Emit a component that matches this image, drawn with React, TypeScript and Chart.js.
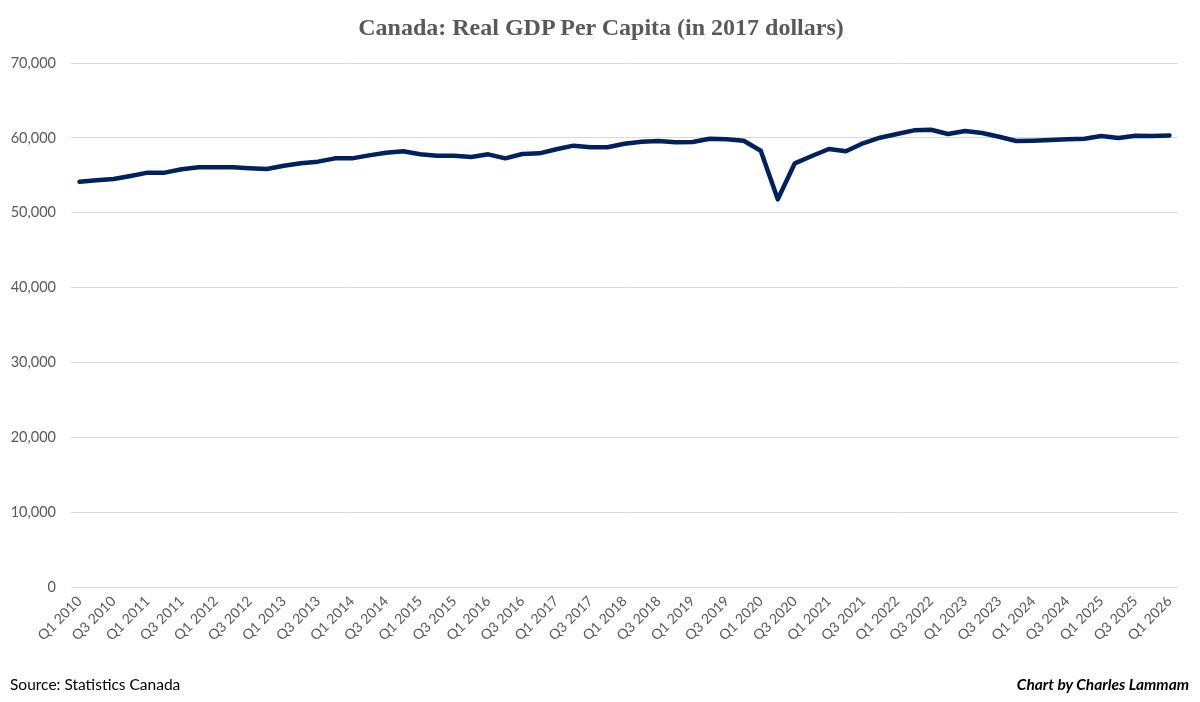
import { useEffect, useRef } from "react";
import { Chart, registerables } from "chart.js";

Chart.register(...registerables);

// Quarterly periods, Q1 2010 through Q1 2026
const quarters: string[] = [
  "Q1 2010", "Q2 2010", "Q3 2010", "Q4 2010",
  "Q1 2011", "Q2 2011", "Q3 2011", "Q4 2011",
  "Q1 2012", "Q2 2012", "Q3 2012", "Q4 2012",
  "Q1 2013", "Q2 2013", "Q3 2013", "Q4 2013",
  "Q1 2014", "Q2 2014", "Q3 2014", "Q4 2014",
  "Q1 2015", "Q2 2015", "Q3 2015", "Q4 2015",
  "Q1 2016", "Q2 2016", "Q3 2016", "Q4 2016",
  "Q1 2017", "Q2 2017", "Q3 2017", "Q4 2017",
  "Q1 2018", "Q2 2018", "Q3 2018", "Q4 2018",
  "Q1 2019", "Q2 2019", "Q3 2019", "Q4 2019",
  "Q1 2020", "Q2 2020", "Q3 2020", "Q4 2020",
  "Q1 2021", "Q2 2021", "Q3 2021", "Q4 2021",
  "Q1 2022", "Q2 2022", "Q3 2022", "Q4 2022",
  "Q1 2023", "Q2 2023", "Q3 2023", "Q4 2023",
  "Q1 2024", "Q2 2024", "Q3 2024", "Q4 2024",
  "Q1 2025", "Q2 2025", "Q3 2025", "Q4 2025",
  "Q1 2026",
];

// Real GDP per capita, 2017 dollars
const gdpPerCapita: number[] = [
  54140, 54330, 54500, 54900,
  55350, 55350, 55800, 56060,
  56060, 56060, 55930, 55840,
  56280, 56600, 56820, 57260,
  57260, 57660, 58020, 58200,
  57800, 57620, 57620, 57440,
  57800, 57260, 57840, 57930,
  58470, 58960, 58740, 58740,
  59220, 59490, 59580, 59400,
  59440, 59890, 59800, 59620,
  58280, 51790, 56600, 57570,
  58510, 58200, 59270, 60020,
  60510, 61000, 61090, 60510,
  60910, 60650, 60150, 59580,
  59620, 59710, 59800, 59890,
  60240, 59980, 60290, 60240,
  60330,
];

const yTicks: number[] = [0, 10000, 20000, 30000, 40000, 50000, 60000, 70000];

const titleText = "Canada: Real GDP Per Capita (in 2017 dollars)";
const sourceText = "Source: Statistics Canada";
const creditText = "Chart by Charles Lammam";

const sans = "Lato, 'Open Sans', sans-serif";
const axisGray = "#595959";

export default function App() {
  const canvasRef = useRef<HTMLCanvasElement | null>(null);

  useEffect(() => {
    const canvas = canvasRef.current;
    if (!canvas) return;
    const chart = new Chart(canvas, {
      type: "line",
      data: {
        labels: quarters,
        datasets: [
          {
            label: "Real GDP per capita",
            data: gdpPerCapita,
            borderColor: "#002060",
            backgroundColor: "#002060",
            borderWidth: 4.5,
            pointRadius: 0,
            pointHoverRadius: 0,
            tension: 0,
            borderJoinStyle: "round",
            borderCapStyle: "round",
            fill: false,
          },
        ],
      },
      options: {
        responsive: false,
        animation: false,
        layout: { padding: { left: 0, right: 22, top: 63, bottom: 0 } },
        plugins: {
          legend: { display: false },
          tooltip: { enabled: false },
          title: { display: false },
        },
        scales: {
          x: {
            type: "category",
            offset: true,
            grid: { display: false, drawTicks: false },
            border: { display: false },
            afterFit: (scale: any) => {
              scale.height = 115;
            },
            ticks: {
              autoSkip: false,
              maxRotation: 45,
              minRotation: 45,
              padding: 6,
              color: axisGray,
              font: { family: sans, size: 14 },
              callback: (_v: any, i: number) => (i % 2 === 0 ? quarters[i] : ""),
            },
          },
          y: {
            min: 0,
            max: 70000,
            afterFit: (scale: any) => {
              scale.width = 71;
            },
            afterBuildTicks: (scale: any) => {
              scale.ticks = yTicks.map((v) => ({ value: v }));
            },
            grid: { color: "#d9d9d9", lineWidth: 1, drawTicks: false },
            border: { display: false },
            ticks: {
              padding: 15,
              color: axisGray,
              font: { family: sans, size: 14.5 },
              callback: (v: any) => Number(v).toLocaleString("en-US"),
            },
          },
        },
      },
    });
    return () => chart.destroy();
  }, []);

  return (
    <div
      style={{
        position: "absolute",
        left: 0,
        top: 0,
        width: 1200,
        height: 702,
        background: "#ffffff",
        overflow: "hidden",
      }}
    >
      <canvas ref={canvasRef} width={1200} height={702} style={{ display: "block" }} />
      <div
        style={{
          position: "absolute",
          left: 2,
          top: 12,
          width: 1198,
          textAlign: "center",
          fontFamily: "'Liberation Serif', 'Times New Roman', serif",
          fontSize: 24,
          fontWeight: "bold",
          color: axisGray,
          lineHeight: "30px",
          whiteSpace: "nowrap",
        }}
      >
        {titleText}
      </div>
      <div
        style={{
          position: "absolute",
          left: 10,
          top: 674,
          fontFamily: sans,
          fontSize: 15.5,
          color: "#000000",
          lineHeight: "20px",
          whiteSpace: "nowrap",
        }}
      >
        {sourceText}
      </div>
      <div
        style={{
          position: "absolute",
          right: 11,
          top: 674,
          fontFamily: sans,
          fontSize: 15.5,
          fontWeight: "bold",
          fontStyle: "italic",
          color: "#000000",
          lineHeight: "20px",
          whiteSpace: "nowrap",
        }}
      >
        {creditText}
      </div>
    </div>
  );
}
